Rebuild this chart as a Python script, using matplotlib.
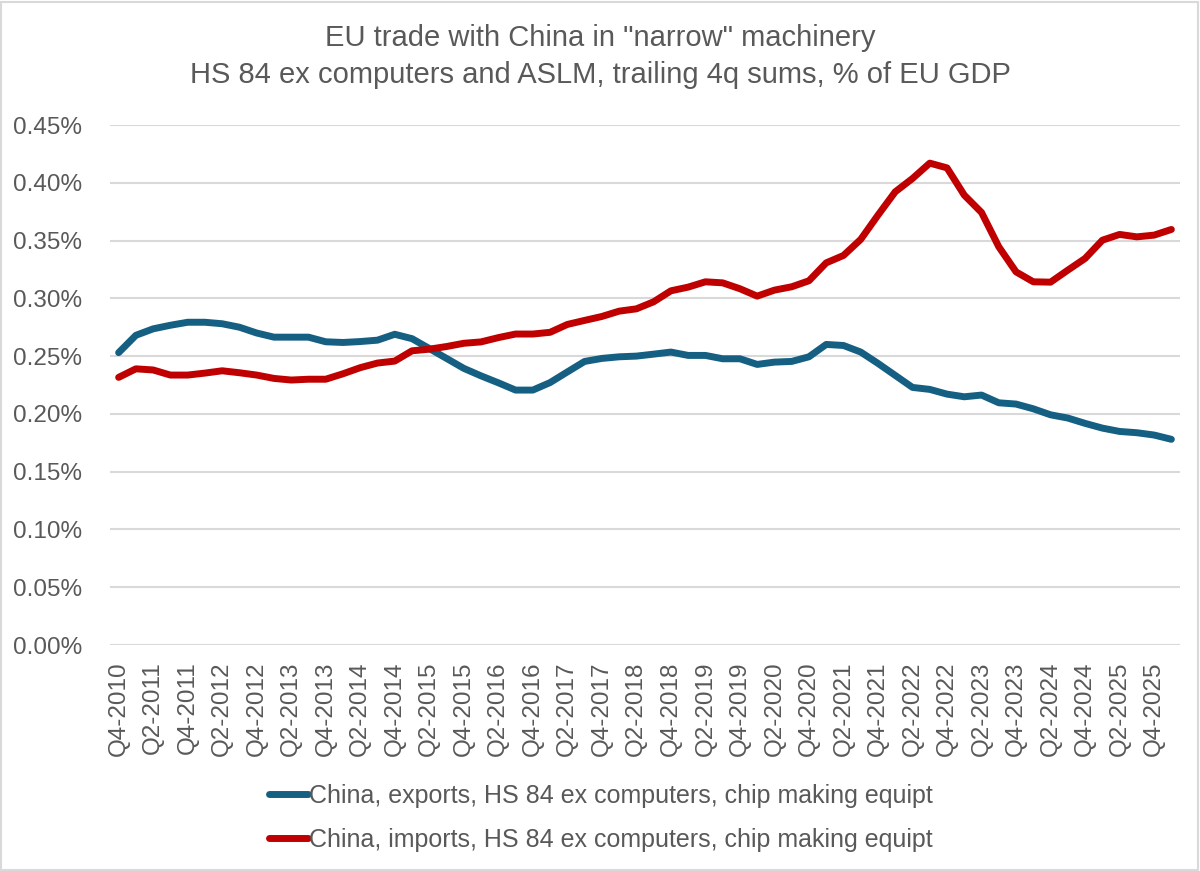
import matplotlib
matplotlib.use("Agg")
import matplotlib.pyplot as plt
from matplotlib.patches import Rectangle
from matplotlib.ticker import FuncFormatter

plt.rcParams['font.family'] = ['Liberation Sans', 'DejaVu Sans']

# quarters Q4-2010 .. Q1-2026
quarters = []
for year in range(2010, 2027):
    for q in range(1, 5):
        if (year == 2010 and q < 4) or (year == 2026 and q > 1):
            continue
        quarters.append(f"Q{q}-{year}")

# % of EU GDP
exports = [0.253, 0.268, 0.2736, 0.2767, 0.2793, 0.2793, 0.278, 0.275, 0.270, 0.2664,
           0.2664, 0.2664, 0.2624, 0.2618, 0.2626, 0.2638, 0.2689, 0.2651, 0.2566, 0.248,
           0.2394, 0.2329, 0.2269, 0.2206, 0.2206, 0.2271, 0.2363, 0.2454, 0.248, 0.2494,
           0.250, 0.2517, 0.2535, 0.2506, 0.2506, 0.2477, 0.2477, 0.2428, 0.2448, 0.2454,
           0.2494, 0.2601, 0.2592, 0.2535, 0.2437, 0.2333, 0.2229, 0.2212, 0.2171, 0.2148,
           0.2163, 0.2096, 0.2085, 0.2044, 0.1992, 0.1964, 0.1918, 0.1877, 0.1848, 0.1837,
           0.1817, 0.178]
imports = [0.2316, 0.239, 0.238, 0.2336, 0.2336, 0.2353, 0.2373, 0.2356, 0.2336, 0.2307,
           0.2293, 0.230, 0.230, 0.2347, 0.240, 0.244, 0.2457, 0.2546, 0.256, 0.2583,
           0.2611, 0.2623, 0.266, 0.2691, 0.2691, 0.2706, 0.2774, 0.2809, 0.2843, 0.2889,
           0.2909, 0.297, 0.3065, 0.3097, 0.3143, 0.3134, 0.3083, 0.3019, 0.3071, 0.310,
           0.3152, 0.3307, 0.3371, 0.351, 0.372, 0.3922, 0.4037, 0.417, 0.4129, 0.3893,
           0.3743, 0.3446, 0.3229, 0.3143, 0.314, 0.3244, 0.3345, 0.3503, 0.3553, 0.3532,
           0.3547, 0.3596]

label_exp = "China, exports, HS 84 ex computers, chip making equipt"
label_imp = "China, imports, HS 84 ex computers, chip making equipt"

blue = "#156082"
red = "#C00000"
grey_txt = "#595959"
grid_col = "#D9D9D9"

fig = plt.figure(figsize=(12, 8.71), dpi=100)
ax = fig.add_axes([110 / 1200, 1 - 645 / 871, 1070 / 1200, 520 / 871])

x = list(range(len(quarters)))
ax.plot(x, exports, color=blue, lw=5, solid_capstyle='round', solid_joinstyle='round', label=label_exp)
ax.plot(x, imports, color=red, lw=5, solid_capstyle='round', solid_joinstyle='round', label=label_imp)

ax.set_xlim(-0.5, len(quarters) - 0.5)
ax.set_ylim(0, 0.45)
ax.set_yticks([i * 0.05 for i in range(10)])
ax.yaxis.set_major_formatter(FuncFormatter(lambda v, p: f"{v:.2f}%"))
ax.set_xticks(x[::2])
ax.set_xticklabels(quarters[::2], rotation=90)

ax.grid(axis='y', color=grid_col, lw=1.5)
ax.set_axisbelow(True)
for s in ax.spines.values():
    s.set_visible(False)
ax.tick_params(axis='both', length=0, labelsize=17.5, colors=grey_txt)
ax.tick_params(axis='y', pad=20)
ax.tick_params(axis='x', pad=12)

fig.text(0.5, 1 - 38 / 871, 'EU trade with China in "narrow" machinery', ha='center', va='center',
         fontsize=21, color=grey_txt)
fig.text(0.5, 1 - 75 / 871, 'HS 84 ex computers and ASLM, trailing 4q sums, % of EU GDP', ha='center',
         va='center', fontsize=21, color=grey_txt)

leg = fig.legend(loc='center', bbox_to_anchor=(601 / 1200, 1 - 818 / 871), ncol=1, frameon=False,
                 fontsize=18, handlelength=1.56, handletextpad=0.05, labelspacing=0.8)
for t in leg.get_texts():
    t.set_color(grey_txt)

fig.patches.append(Rectangle((0.001, 0.001), 0.997, 0.997, transform=fig.transFigure,
                             fill=False, edgecolor=grid_col, lw=1.5))

fig.savefig("out.png", dpi=100)
